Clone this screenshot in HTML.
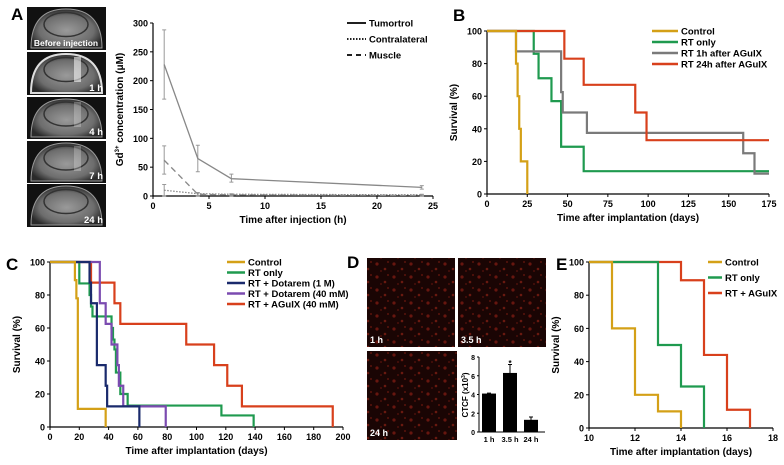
<!DOCTYPE html>
<html><head><meta charset="utf-8"><style>
body{margin:0;background:#fff}
svg{display:block;font-family:"Liberation Sans",Arial,sans-serif;font-weight:bold}
</style></head><body>
<svg id="s" width="784" height="465" viewBox="0 0 784 465">
<defs>
<radialGradient id="br" cx="0.5" cy="0.55" r="0.55"><stop offset="0" stop-color="#9a9a9a"/><stop offset="0.7" stop-color="#6d6d6d"/><stop offset="1" stop-color="#2a2a2a"/></radialGradient>
<pattern id="sp" width="17" height="13" patternUnits="userSpaceOnUse">
<rect width="17" height="13" fill="#1a0504"/>
<circle cx="3" cy="4" r="1.6" fill="#7a1a12" opacity="0.8"/>
<circle cx="11" cy="9" r="1.3" fill="#8a2216" opacity="0.7"/>
<circle cx="14" cy="2" r="1" fill="#6a150e" opacity="0.8"/>
<circle cx="7" cy="11" r="0.9" fill="#5a120c"/>
</pattern>
</defs>
<g id="root"></g>
</svg>
<script>
// ---- Panel A data ----
const aTimes=[1,4,7,24];
const aTumor=[228,65,30,15];
const aTumorLo=[168,42,24,12];
const aTumorHi=[288,88,38,18];
const aContra=[10,4,3,2];
const aContraHi=[20,6,4,3];
const aMuscle=[62,3,2,1];
const aMuscleLo=[38,1,1,0];
const aMuscleHi=[87,5,3,2];
const aYTicks=[0,50,100,150,200,250,300];
const aXTicks=[0,5,10,15,20,25];
// ---- Panel B data ----
const bXTicks=[0,25,50,75,100,125,150,175];
const bControlT=[18,19,20,21,25];
const bControlS=[80,60,40,20,0];
const bRTT=[29,32,40,46,60];
const bRTS=[86,71,57,29,14];
const b1hT=[18,46,47,62,159,166];
const b1hS=[87.5,62.5,50,37.5,25,12.5];
const b24hT=[48,60,92,99];
const b24hS=[83,67,50,33];
// ---- Panel C data ----
const cXTicks=[0,20,40,60,80,100,120,140,160,180,200];
const cControlT=[17,18,19,38];
const cControlS=[89,78,11,0];
const cRTT=[20,27,28,29,42,43,44,45,48,53,117,139];
const cRTS=[87,80,73,67,60,53,47,33,20,13,7,0];
const cDot1T=[27,28,32,38,39,61];
const cDot1S=[87.5,75,37.5,25,12.5,0];
const cDot40T=[34,38,42,46,47,50,79];
const cDot40S=[75,62.5,50,37.5,25,12.5,0];
const cAgT=[28,44,48,93,112,121,131,193];
const cAgS=[87.5,75,62.5,50,37.5,25,12.5,0];
// ---- Panel D data ----
const dCats=["1 h","3.5 h","24 h"];
const dVals=[4.1,6.3,1.3];
const dErr=[0.05,0.9,0.3];
const dYTicks=[0,2,4,6,8];
// ---- Panel E data ----
const eXTicks=[10,12,14,16,18];
const eControlT=[11,12,13,14];
const eControlS=[60,20,10,0];
const eRTT=[13,14,15];
const eRTS=[50,25,0];
const eAgT=[14,15,16,17];
const eAgS=[89,44,11,0];
const survTicks=[0,20,40,60,80,100];

const NS="http://www.w3.org/2000/svg";
const root=document.getElementById('root');
function el(tag,attrs,parent,txt){const e=document.createElementNS(NS,tag);for(const k in attrs)e.setAttribute(k,attrs[k]);if(txt!==undefined)e.textContent=txt;(parent||root).appendChild(e);return e;}
function lin(d0,d1,r0,r1){return v=>r0+(v-d0)*(r1-r0)/(d1-d0);}
const GOLD="#d4a017",GREEN="#1f9a4f",GRAY="#7a7a7a",RED="#d8401c",NAVY="#1a2a6c",PURPLE="#7b4bb0";

function axes(g,x,y,x0,x1,y0,y1,xt,yt,xlab,ylab,fs){
  el('line',{x1:x(x0),y1:y(y0),x2:x(x1),y2:y(y0),stroke:'#000','stroke-width':1.2},g);
  el('line',{x1:x(x0),y1:y(y0),x2:x(x0),y2:y(y1),stroke:'#000','stroke-width':1.2},g);
  xt.forEach(v=>{el('line',{x1:x(v),y1:y(y0),x2:x(v),y2:y(y0)+3,stroke:'#000'},g);
    const t=el('text',{x:x(v),y:y(y0)+13,'font-size':fs,'text-anchor':'middle'},g,v);
    
    });
  yt.forEach(v=>{el('line',{x1:x(x0)-3,y1:y(v),x2:x(x0),y2:y(v),stroke:'#000'},g);
    const t=el('text',{x:x(x0)-5,y:y(v)+3.5,'font-size':fs,'text-anchor':'end'},g,v);
    
    });
  const xl=el('text',{x:(x(x0)+x(x1))/2,y:y(y0)+27,'font-size':10,'text-anchor':'middle'},g,xlab);
  
  
  const ym=(y(y0)+y(y1))/2, yx=x(x0)-(fs>8?30:20);
  const yl=el('text',{x:yx,y:ym,'font-size':10,'text-anchor':'middle',transform:`rotate(-90 ${yx} ${ym})`},g);
  yl.innerHTML=ylab;
  
  
}
function km(g,x,y,t0,T,S,col,name,endT){
  let d=`M${x(t0)},${y(100)}`;let cur=100;
  T.forEach((t,i)=>{d+=`H${x(t)}V${y(S[i])}`;cur=S[i];});
  if(endT!==undefined&&cur>0)d+=`H${x(endT)}`;
  const p=el('path',{d,fill:'none',stroke:col,'stroke-width':2.2},g);
  
  
}
function legend(g,x1,x2,y0,dy,items,fs,sw){
  items.forEach((it,i)=>{const yy=y0+i*dy;
    const gg=el('g',{},g);
    
    
    el('line',{x1,x2,y1:yy,y2:yy,stroke:it[1],'stroke-width':sw||2.5,'stroke-dasharray':it[2]||''},gg);
    el('text',{x:x2+3,y:yy+3.5,'font-size':fs},gg,it[0]);});
}
function letter(x,y,t){const e=el('text',{x,y,'font-size':17,'font-weight':'bold'},root,t);
  
  }

// ===== Panel A =====
letter(11,20,'A');
const mri=el('g',{});


const frames=[[7,50,'Before injection'],[52,95,'1 h'],[97,139,'4 h'],[141,183,'7 h'],[184,227,'24 h']];
frames.forEach((f,i)=>{
  el('rect',{x:27,y:f[0],width:79,height:f[1]-f[0],fill:'#111'},mri);
  el('path',{d:`M31,${f[1]-2} Q31,${f[0]+2} 66,${f[0]+2} Q102,${f[0]+2} 102,${f[1]-2} Z`,fill:'url(#br)',stroke:i==1?'#ddd':'#999','stroke-width':i==1?2:1},mri);
  el('ellipse',{cx:66,cy:(f[0]+f[1])/2-4,rx:22,ry:12,fill:'none',stroke:'#333','stroke-width':1.5},mri);
  if(i>0&&i<4)el('rect',{x:74,y:f[0]+5,width:7,height:25,fill:'#fff',opacity:i==1?0.55:0.25},mri);
  const t=el('text',{x:f[2].length>5?66:103,y:f[1]-4,'font-size':f[2].length>5?8.5:9.5,fill:'#fff','text-anchor':f[2].length>5?'middle':'end'},mri,f[2]);
  
  
});
const gA=el('g',{});


const ax=lin(0,25,153,433), ay=lin(0,300,196,23);
axes(gA,ax,ay,0,25,0,300,aXTicks,aYTicks,'Time after injection (h)','Gd<tspan font-size="6" dy="-4">3+</tspan><tspan dy="4"> concentration (μM)</tspan>',9);
function aSeries(vals,dash,name){
  const p=el('polyline',{points:aTimes.map((t,i)=>ax(t)+','+ay(vals[i])).join(' '),fill:'none',stroke:'#888','stroke-width':1.3,'stroke-dasharray':dash},gA);
  
  
}
function aErr(lo,hi,name){aTimes.forEach((t,i)=>{
  const e=el('path',{d:`M${ax(t)},${ay(lo[i])}V${ay(hi[i])}M${ax(t)-2},${ay(lo[i])}h4M${ax(t)-2},${ay(hi[i])}h4`,stroke:'#999','stroke-width':1,fill:'none'},gA);
  
  });}
aErr(aTumorLo,aTumorHi,'tumor-error-bar');
aErr(aMuscleLo,aMuscleHi,'muscle-error-bar');
aErr(aContra.map(()=>0),aContraHi,'contralateral-error-bar');
aSeries(aTumor,'','tumor-line');
aSeries(aContra,'1.5,1.5','contralateral-line');
aSeries(aMuscle,'6,4','muscle-line');
legend(gA,347,366,23,16,[['Tumortrol','#000'],['Contralateral','#000','1.5,1.5'],['Muscle','#000','5,4']],9.5,1.8);

// ===== Panel B =====
letter(453,21,'B');
const gB=el('g',{});


const bx=lin(0,175,487,769), by=lin(0,100,194,31);
axes(gB,bx,by,0,175,0,100,bXTicks,survTicks,'Time after implantation (days)','Survival (%)',9);
km(gB,bx,by,0,bRTT,bRTS,GREEN,'rt-only-curve',175);
km(gB,bx,by,0,b1hT,b1hS,GRAY,'rt-1h-curve',175);
km(gB,bx,by,0,b24hT,b24hS,RED,'rt-24h-curve',175);
km(gB,bx,by,0,bControlT,bControlS,GOLD,'control-curve');
legend(gB,652,678,31,11,[['Control',GOLD],['RT only',GREEN],['RT 1h after AGuIX',GRAY],['RT 24h after AGuIX',RED]],9.5);

// ===== Panel C =====
letter(6,270,'C');
const gC=el('g',{});


const cx=lin(0,200,50,343), cy=lin(0,100,427,262);
axes(gC,cx,cy,0,200,0,100,cXTicks,survTicks,'Time after implantation (days)','Survival (%)',9);
km(gC,cx,cy,0,cAgT,cAgS,RED,'rt-aguix-curve');
km(gC,cx,cy,0,cRTT,cRTS,GREEN,'rt-only-curve');
km(gC,cx,cy,0,cDot40T,cDot40S,PURPLE,'rt-dotarem-40mm-curve');
km(gC,cx,cy,0,cDot1T,cDot1S,NAVY,'rt-dotarem-1m-curve');
km(gC,cx,cy,0,cControlT,cControlS,GOLD,'control-curve');
legend(gC,227,245,262,10.5,[['Control',GOLD],['RT only',GREEN],['RT + Dotarem (1 M)',NAVY],['RT + Dotarem (40 mM)',PURPLE],['RT + AGuIX (40 mM)',RED]],9.5);

// ===== Panel D =====
letter(347,268,'D');
const gD=el('g',{});


[[367,258,88,89,'1 h'],[458,258,88,89,'3.5 h'],[367,351,90,89,'24 h']].forEach(m=>{
  const r=el('rect',{x:m[0],y:m[1],width:m[2],height:m[3],fill:'url(#sp)'},gD);
  
  
  el('text',{x:m[0]+3,y:m[1]+m[3]-4,'font-size':9,fill:'#fff'},gD,m[4]);
});
const dx0=479, dy=lin(0,8,432,357), bw=14, dStep=21;
el('line',{x1:dx0,y1:dy(0),x2:dx0+66,y2:dy(0),stroke:'#000'},gD);
el('line',{x1:dx0,y1:dy(0),x2:dx0,y2:dy(8),stroke:'#000'},gD);
dYTicks.forEach(v=>{el('line',{x1:dx0-2,x2:dx0,y1:dy(v),y2:dy(v),stroke:'#000'},gD);
  el('text',{x:dx0-4,y:dy(v)+3,'font-size':7,'text-anchor':'end'},gD,v);});
dCats.forEach((c,i)=>{const cxp=dx0+10+i*dStep;
  const b=el('rect',{x:cxp-bw/2,y:dy(dVals[i]),width:bw,height:dy(0)-dy(dVals[i]),fill:'#000'},gD);
  
  
  el('path',{d:`M${cxp},${dy(dVals[i])}V${dy(dVals[i]+dErr[i])}M${cxp-2},${dy(dVals[i]+dErr[i])}h4`,stroke:'#000'},gD);
  el('text',{x:cxp,y:442,'font-size':7.5,'text-anchor':'middle'},gD,c);});
el('text',{x:dx0+31,y:366,'font-size':8,'text-anchor':'middle'},gD,'*');
const dl=el('text',{x:468,y:395,'font-size':8,'text-anchor':'middle',transform:'rotate(-90 468 395)'},gD);
dl.innerHTML='CTCF (x10<tspan font-size="5" dy="-3">3</tspan><tspan dy="3">)</tspan>';

// ===== Panel E =====
letter(556,270,'E');
const gE=el('g',{});


const ex=lin(10,18,589,773), ey=lin(0,100,428,262);
axes(gE,ex,ey,10,18,0,100,eXTicks,survTicks,'Time after implantation (days)','Survival (%)',9);
km(gE,ex,ey,10,eAgT,eAgS,RED,'rt-aguix-curve');
km(gE,ex,ey,10,eRTT,eRTS,GREEN,'rt-only-curve');
km(gE,ex,ey,10,eControlT,eControlS,GOLD,'control-curve');
legend(gE,708,722,262,15.5,[['Control',GOLD],['RT only',GREEN],['RT + AGuIX',RED]],9.5);
</script>
</body></html>
